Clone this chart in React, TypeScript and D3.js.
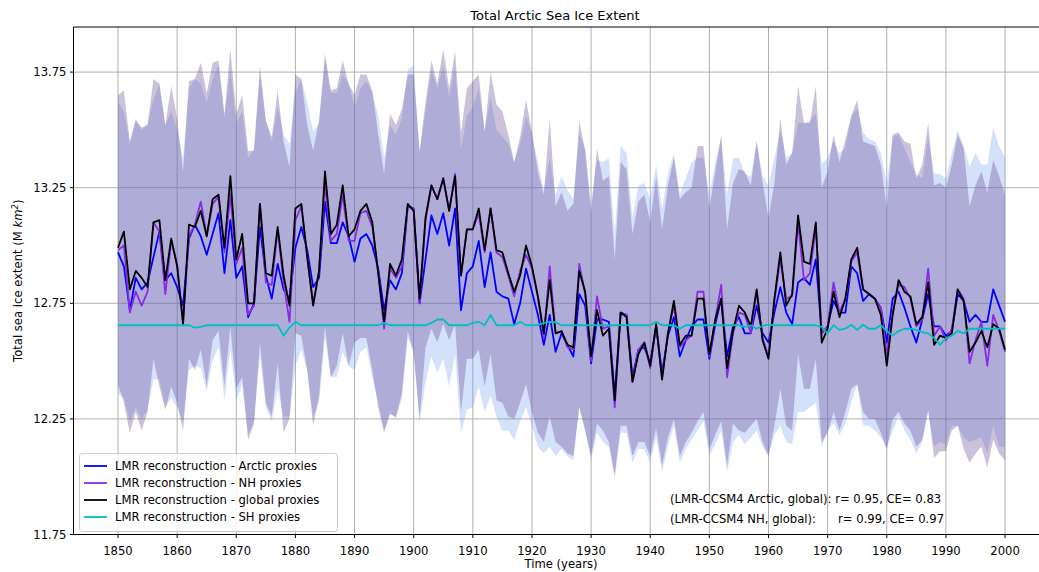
import React from 'react';
import * as d3 from 'd3';

// years 1850..2000
const years = d3.range(1850, 2001);

const arctic = [
  12.97, 12.91, 12.72, 12.86, 12.81, 12.84, 12.95, 13.06, 12.85, 12.88,
  12.82, 12.74, 13.03, 13.09, 13.04, 12.96, 13.05, 13.14, 12.88, 13.11,
  12.86, 12.91, 12.69, 12.75, 13.08, 12.87, 12.77, 12.92, 12.81, 12.77,
  12.99, 13.08, 12.98, 12.82, 12.86, 13.19, 13.01, 13.01, 13.10, 13.04,
  12.93, 13.03, 13.05, 13.00, 12.90, 12.72, 12.85, 12.81, 12.88, 13.17,
  13.16, 12.75, 12.94, 13.13, 13.05, 13.14, 13.00, 13.16, 12.72, 12.88,
  12.91, 13.02, 12.82, 12.97, 12.80, 12.78, 12.77, 12.66, 12.75, 12.90,
  12.80, 12.70, 12.57, 12.70, 12.54, 12.62, 12.57, 12.52, 12.79, 12.74,
  12.49, 12.68, 12.68, 12.67, 12.35, 12.71, 12.70, 12.43, 12.55, 12.56,
  12.49, 12.65, 12.45, 12.61, 12.69, 12.52, 12.59, 12.65, 12.68, 12.68,
  12.51, 12.66, 12.77, 12.52, 12.65, 12.69, 12.62, 12.62, 12.74, 12.62,
  12.58, 12.71, 12.82, 12.71, 12.66, 12.84, 12.86, 12.83, 12.94, 12.62,
  12.65, 12.76, 12.71, 12.71, 12.91, 12.88, 12.76, 12.79, 12.77, 12.73,
  12.58, 12.77, 12.80, 12.73, 12.65, 12.58, 12.68, 12.79, 12.65, 12.65,
  12.61, 12.63, 12.79, 12.76, 12.67, 12.70, 12.67, 12.67, 12.81, 12.74,
  12.67,
];

const nh = [
  12.98, 13.00, 12.71, 12.80, 12.74, 12.80, 13.10, 13.06, 12.79, 13.02,
  12.92, 12.67, 13.04, 13.09, 13.19, 13.04, 13.18, 13.21, 12.97, 13.22,
  12.92, 12.99, 12.70, 12.74, 13.18, 12.84, 12.83, 13.07, 12.84, 12.67,
  13.11, 13.17, 12.95, 12.75, 12.89, 13.27, 13.02, 13.05, 13.22, 13.02,
  13.02, 13.14, 13.15, 13.08, 12.88, 12.64, 12.90, 12.86, 12.91, 13.17,
  13.16, 12.75, 13.11, 13.26, 13.20, 13.29, 13.15, 13.31, 12.87, 13.07,
  13.07, 13.14, 12.97, 13.16, 12.97, 12.95, 12.87, 12.78, 12.89, 12.96,
  12.90, 12.78, 12.60, 12.91, 12.62, 12.63, 12.56, 12.55, 12.92, 12.79,
  12.50, 12.78, 12.64, 12.65, 12.30, 12.71, 12.70, 12.41, 12.55, 12.58,
  12.47, 12.65, 12.43, 12.62, 12.74, 12.56, 12.59, 12.61, 12.80, 12.80,
  12.52, 12.68, 12.83, 12.43, 12.62, 12.71, 12.70, 12.62, 12.80, 12.60,
  12.52, 12.76, 12.94, 12.77, 12.78, 13.10, 12.85, 12.88, 13.08, 12.62,
  12.65, 12.84, 12.71, 12.77, 12.93, 12.97, 12.81, 12.79, 12.77, 12.73,
  12.53, 12.71, 12.83, 12.82, 12.77, 12.65, 12.68, 12.90, 12.61, 12.65,
  12.59, 12.64, 12.81, 12.77, 12.49, 12.59, 12.67, 12.48, 12.70, 12.63,
  12.54,
];

const globalRec = [
  12.99, 13.06, 12.81, 12.89, 12.86, 12.82, 13.10, 13.11, 12.85, 13.03,
  12.91, 12.66, 13.09, 13.08, 13.15, 13.04, 13.20, 13.22, 12.99, 13.30,
  12.94, 13.05, 12.75, 12.75, 13.18, 12.88, 12.87, 13.08, 12.87, 12.74,
  13.16, 13.18, 12.95, 12.74, 12.89, 13.32, 13.05, 13.09, 13.26, 13.04,
  13.07, 13.15, 13.18, 13.10, 12.88, 12.67, 12.92, 12.87, 12.94, 13.18,
  13.15, 12.77, 13.12, 13.26, 13.20, 13.29, 13.15, 13.30, 12.87, 13.07,
  13.07, 13.16, 12.98, 13.16, 12.98, 12.97, 12.88, 12.80, 12.87, 13.00,
  12.91, 12.78, 12.62, 12.85, 12.62, 12.63, 12.57, 12.56, 12.89, 12.80,
  12.52, 12.72, 12.61, 12.64, 12.33, 12.71, 12.69, 12.41, 12.53, 12.58,
  12.48, 12.66, 12.42, 12.62, 12.76, 12.57, 12.61, 12.61, 12.77, 12.77,
  12.53, 12.68, 12.77, 12.47, 12.63, 12.74, 12.71, 12.65, 12.81, 12.59,
  12.51, 12.77, 12.97, 12.74, 12.79, 13.13, 12.93, 12.92, 13.10, 12.58,
  12.64, 12.80, 12.69, 12.77, 12.94, 12.99, 12.81, 12.79, 12.77, 12.70,
  12.48, 12.70, 12.85, 12.80, 12.78, 12.66, 12.69, 12.84, 12.57, 12.61,
  12.60, 12.62, 12.81, 12.76, 12.54, 12.58, 12.63, 12.56, 12.66, 12.64,
  12.55,
];

const sh = [
  12.655, 12.655, 12.655, 12.655, 12.655, 12.655, 12.655, 12.655, 12.655, 12.655,
  12.655, 12.655, 12.655, 12.645, 12.648, 12.655, 12.655, 12.655, 12.655, 12.655,
  12.655, 12.655, 12.655, 12.655, 12.655, 12.655, 12.655, 12.655, 12.61, 12.645,
  12.67, 12.655, 12.655, 12.655, 12.655, 12.655, 12.655, 12.655, 12.655, 12.655,
  12.655, 12.655, 12.655, 12.655, 12.655, 12.665, 12.655, 12.655, 12.655, 12.655,
  12.655, 12.655, 12.655, 12.665, 12.68, 12.68, 12.655, 12.655, 12.655, 12.655,
  12.665, 12.67, 12.655, 12.70, 12.655, 12.655, 12.655, 12.655, 12.67, 12.655,
  12.655, 12.655, 12.665, 12.67, 12.668, 12.655, 12.655, 12.655, 12.655, 12.655,
  12.655, 12.655, 12.655, 12.655, 12.655, 12.655, 12.655, 12.655, 12.655, 12.655,
  12.655, 12.67, 12.655, 12.655, 12.655, 12.64, 12.655, 12.655, 12.655, 12.655,
  12.655, 12.655, 12.655, 12.655, 12.655, 12.655, 12.648, 12.655, 12.64, 12.652,
  12.658, 12.655, 12.655, 12.655, 12.655, 12.655, 12.655, 12.655, 12.655, 12.648,
  12.62, 12.655, 12.635, 12.64, 12.657, 12.635, 12.657, 12.64, 12.64, 12.655,
  12.63, 12.61, 12.63, 12.64, 12.64, 12.635, 12.625, 12.62, 12.60, 12.57,
  12.60, 12.61, 12.63, 12.62, 12.64, 12.64, 12.64, 12.64, 12.64, 12.64,
  12.64,
];

// uncertainty ranges
const nhHi = [
  13.65, 13.67, 13.45, 13.54, 13.51, 13.52, 13.72, 13.70, 13.52, 13.69,
  13.55, 13.32, 13.71, 13.72, 13.79, 13.66, 13.79, 13.80, 13.57, 13.85,
  13.57, 13.65, 13.41, 13.41, 13.78, 13.54, 13.47, 13.67, 13.45, 13.34,
  13.74, 13.72, 13.52, 13.41, 13.54, 13.83, 13.67, 13.68, 13.80, 13.70,
  13.65, 13.74, 13.74, 13.67, 13.48, 13.31, 13.57, 13.52, 13.59, 13.74,
  13.74, 13.41, 13.62, 13.80, 13.70, 13.85, 13.68, 13.84, 13.49, 13.68,
  13.71, 13.74, 13.49, 13.75, 13.61, 13.58, 13.48, 13.36, 13.47, 13.63,
  13.49, 13.32, 13.22, 13.55, 13.17, 13.23, 13.15, 13.18, 13.54, 13.41,
  13.14, 13.42, 13.28, 13.30, 12.94, 13.36, 13.33, 13.05, 13.19, 13.22,
  13.10, 13.30, 13.07, 13.26, 13.38, 13.20, 13.23, 13.25, 13.43, 13.43,
  13.16, 13.32, 13.48, 13.07, 13.27, 13.33, 13.32, 13.26, 13.45, 13.27,
  13.12, 13.27, 13.55, 13.35, 13.40, 13.69, 13.53, 13.53, 13.69, 13.25,
  13.32, 13.48, 13.36, 13.46, 13.56, 13.63, 13.45, 13.44, 13.43, 13.35,
  13.16, 13.48, 13.49, 13.45, 13.44, 13.29, 13.35, 13.53, 13.26, 13.27,
  13.25, 13.35, 13.48, 13.42, 13.17, 13.26, 13.32, 13.23, 13.37, 13.30,
  13.22,
];

const nhLo = [
  12.40, 12.32, 12.19, 12.28, 12.20, 12.28, 12.51, 12.39, 12.29, 12.39,
  12.32, 12.20, 12.51, 12.46, 12.55, 12.39, 12.59, 12.63, 12.39, 12.65,
  12.38, 12.43, 12.16, 12.23, 12.58, 12.32, 12.26, 12.49, 12.19, 12.25,
  12.62, 12.61, 12.46, 12.22, 12.35, 12.65, 12.43, 12.48, 12.62, 12.48,
  12.58, 12.60, 12.60, 12.46, 12.30, 12.19, 12.27, 12.26, 12.36, 12.63,
  12.53, 12.25, 12.56, 12.64, 12.58, 12.66, 12.59, 12.66, 12.28, 12.51,
  12.51, 12.55, 12.39, 12.53, 12.33, 12.32, 12.26, 12.25, 12.32, 12.40,
  12.28, 12.19, 12.15, 12.26, 12.15, 12.13, 12.10, 12.09, 12.30, 12.20,
  12.09, 12.23, 12.20, 12.15, 12.01, 12.22, 12.22, 12.09, 12.15, 12.15,
  12.09, 12.21, 12.05, 12.17, 12.25, 12.09, 12.15, 12.19, 12.24, 12.28,
  12.12, 12.18, 12.24, 12.05, 12.23, 12.20, 12.19, 12.22, 12.25, 12.15,
  12.09, 12.22, 12.38, 12.22, 12.20, 12.53, 12.38, 12.38, 12.51, 12.15,
  12.19, 12.28, 12.20, 12.28, 12.38, 12.40, 12.28, 12.25, 12.25, 12.19,
  12.12, 12.25, 12.28, 12.23, 12.20, 12.13, 12.16, 12.29, 12.08, 12.11,
  12.11, 12.20, 12.22, 12.12, 12.06, 12.10, 12.13, 12.04, 12.16, 12.10,
  12.07,
];

const arcticHi = [
  13.62, 13.58, 13.44, 13.55, 13.50, 13.53, 13.63, 13.70, 13.52, 13.58,
  13.50, 13.38, 13.68, 13.72, 13.70, 13.62, 13.72, 13.78, 13.55, 13.76,
  13.53, 13.58, 13.38, 13.42, 13.74, 13.54, 13.45, 13.60, 13.48, 13.44,
  13.66, 13.72, 13.62, 13.49, 13.53, 13.80, 13.66, 13.66, 13.74, 13.70,
  13.60, 13.68, 13.71, 13.66, 13.56, 13.38, 13.52, 13.48, 13.55, 13.76,
  13.78, 13.40, 13.58, 13.76, 13.68, 13.78, 13.64, 13.78, 13.42, 13.56,
  13.60, 13.68, 13.50, 13.64, 13.50, 13.47, 13.44, 13.36, 13.44, 13.56,
  13.48, 13.36, 13.24, 13.38, 13.22, 13.30, 13.24, 13.20, 13.48, 13.42,
  13.18, 13.37, 13.36, 13.38, 13.05, 13.43, 13.40, 13.12, 13.26, 13.27,
  13.20, 13.35, 13.16, 13.31, 13.40, 13.22, 13.29, 13.36, 13.38, 13.38,
  13.22, 13.36, 13.46, 13.22, 13.38, 13.38, 13.31, 13.30, 13.45, 13.30,
  13.26, 13.38, 13.50, 13.38, 13.40, 13.53, 13.53, 13.54, 13.57, 13.35,
  13.38, 13.45, 13.40, 13.42, 13.56, 13.59, 13.49, 13.46, 13.45, 13.40,
  13.27, 13.47, 13.48, 13.42, 13.36, 13.31, 13.29, 13.47, 13.31, 13.31,
  13.29, 13.40, 13.50, 13.43, 13.34, 13.40, 13.35, 13.35, 13.51, 13.43,
  13.38,
];

const arcticLo = [
  12.36, 12.34, 12.24, 12.30, 12.25, 12.29, 12.42, 12.42, 12.30, 12.34,
  12.30, 12.24, 12.46, 12.48, 12.47, 12.37, 12.50, 12.56, 12.33, 12.55,
  12.33, 12.40, 12.18, 12.24, 12.52, 12.30, 12.24, 12.38, 12.26, 12.26,
  12.48, 12.55, 12.46, 12.26, 12.32, 12.60, 12.43, 12.43, 12.54, 12.48,
  12.46, 12.54, 12.56, 12.43, 12.32, 12.20, 12.28, 12.25, 12.34, 12.60,
  12.55, 12.23, 12.41, 12.52, 12.45, 12.51, 12.39, 12.53, 12.19, 12.29,
  12.30, 12.39, 12.28, 12.35, 12.26, 12.20, 12.20, 12.16, 12.24, 12.30,
  12.22, 12.13, 12.10, 12.13, 12.09, 12.12, 12.09, 12.07, 12.30, 12.20,
  12.07, 12.19, 12.15, 12.13, 11.99, 12.19, 12.19, 12.06, 12.12, 12.12,
  12.06, 12.17, 12.02, 12.13, 12.22, 12.06, 12.12, 12.16, 12.20, 12.24,
  12.09, 12.14, 12.20, 12.02, 12.15, 12.18, 12.14, 12.17, 12.20, 12.13,
  12.09, 12.18, 12.22, 12.15, 12.14, 12.28, 12.28, 12.30, 12.32, 12.13,
  12.20, 12.23, 12.18, 12.23, 12.32, 12.40, 12.22, 12.22, 12.20, 12.17,
  12.12, 12.20, 12.26, 12.20, 12.16, 12.10, 12.15, 12.28, 12.13, 12.15,
  12.14, 12.22, 12.22, 12.17, 12.15, 12.16, 12.17, 12.10, 12.22, 12.13,
  12.13,
];

const xTicks = d3.range(1850, 2001, 10);
const yTicks = [11.75, 12.25, 12.75, 13.25, 13.75];

const legendItems = [
  {label: 'LMR reconstruction - Arctic proxies', color: '#0000ff'},
  {label: 'LMR reconstruction - NH proxies', color: '#8a2be2'},
  {label: 'LMR reconstruction - global proxies', color: '#000000'},
  {label: 'LMR reconstruction - SH proxies', color: '#00bfbf'},
];

const W = 1039;
const H = 572;
const left = 73.5;
const top = 27;
const bottom = 534.5;
const font = 'DejaVu Sans, sans-serif';
const fs = 11.6;

export default function App() {
  const x = d3.scaleLinear().domain([1842.5, 2007.5]).range([73.65, 1049.4]);
  const y = d3.scaleLinear().domain([11.75, 13.945]).range([534.5, 27]);

  const band = (lo: number[], hi: number[]) =>
    d3.area<number>()
      .x(d => x(d))
      .y0((d, i) => y(lo[i]))
      .y1((d, i) => y(hi[i]))(years) || '';

  const line = (vals: number[]) =>
    d3.line<number>()
      .x((d, i) => x(years[i]))
      .y(d => y(d))(vals) || '';

  return (
    <div style={{position: 'absolute', left: 0, top: 0}}>
      <svg width={W} height={H} style={{display: 'block', background: '#fff'}}>
        <defs>
          <clipPath id="plot">
            <rect x={left} y={top} width={W - left} height={bottom - top}/>
          </clipPath>
        </defs>

        {/* grid */}
        <g stroke="#b0b0b0" strokeWidth={1}>
          {xTicks.map(t => (
            <line key={t} x1={x(t)} x2={x(t)} y1={top} y2={bottom}/>
          ))}
          {yTicks.map(t => (
            <line key={t} x1={left} x2={W} y1={y(t)} y2={y(t)}/>
          ))}
        </g>

        <g clipPath="url(#plot)">
          <path d={band(arcticLo, arcticHi)} fill="rgb(100,149,237)" fillOpacity={0.28}/>
          <path d={band(nhLo, nhHi)} fill="rgb(105,77,148)" fillOpacity={0.35}/>

          <path d={line(arctic)} fill="none" stroke="#0000ff" strokeWidth={1.8} strokeLinejoin="round"/>
          <path d={line(nh)} fill="none" stroke="#8a2be2" strokeWidth={1.8} strokeLinejoin="round"/>
          <path d={line(globalRec)} fill="none" stroke="#000" strokeWidth={1.8} strokeLinejoin="round"/>
          <path d={line(sh)} fill="none" stroke="#00bfbf" strokeWidth={1.8} strokeLinejoin="round"/>
        </g>

        {/* spines */}
        <g stroke="#000" strokeWidth={1} fill="none">
          <line x1={left} x2={left} y1={top} y2={bottom}/>
          <line x1={left} x2={W} y1={top} y2={top}/>
          <line x1={left} x2={W} y1={bottom} y2={bottom}/>
        </g>

        {/* axes */}
        <g fontFamily={font} fontSize={fs} fill="#000">
          {xTicks.map(t => (
            <g key={t}>
              <line x1={x(t)} x2={x(t)} y1={bottom} y2={bottom + 3.5} stroke="#000"/>
              <text x={x(t)} y={bottom + 20} textAnchor="middle">{t}</text>
            </g>
          ))}
          {yTicks.map(t => (
            <g key={t}>
              <line x1={left - 3.5} x2={left} y1={y(t)} y2={y(t)} stroke="#000"/>
              <text x={left - 7} y={y(t) + 4} textAnchor="end">{t.toFixed(2)}</text>
            </g>
          ))}
        </g>

        <text x={561} y={568} textAnchor="middle" fontFamily={font} fontSize={fs}>Time (years)</text>
        <text transform={`translate(22,${(top + bottom) / 2}) rotate(-90)`} textAnchor="middle"
              fontFamily={font} fontSize={fs}>
          Total sea ice extent (M <tspan fontStyle="italic">km</tspan><tspan fontStyle="italic" fontSize={8.5} dy={-4}>2</tspan><tspan dy={4}>)</tspan>
        </text>
        <text x={555} y={20} textAnchor="middle" fontFamily={font} fontSize={13}>Total Arctic Sea Ice Extent</text>

        {/* legend */}
        <rect x={79.5} y={453.5} width={258} height={78} rx={3} fill="#fff" fillOpacity={0.8} stroke="#cccccc"/>
        {legendItems.map((it, i) => (
          <g key={it.label}>
            <line x1={84} x2={107} y1={466 + i * 17} y2={466 + i * 17} stroke={it.color} strokeWidth={1.8}/>
            <text x={115} y={470 + i * 17} fontFamily={font} fontSize={fs}>{it.label}</text>
          </g>
        ))}

        {/* stats */}
        <text x={670} y={503} fontFamily={font} fontSize={fs} style={{whiteSpace: 'pre'}}>(LMR-CCSM4 Arctic, global): r= 0.95, CE= 0.83</text>
        <text x={670} y={523} fontFamily={font} fontSize={fs} style={{whiteSpace: 'pre'}}>{'(LMR-CCSM4 NH, global):      r= 0.99, CE= 0.97'}</text>
      </svg>
    </div>
  );
}
